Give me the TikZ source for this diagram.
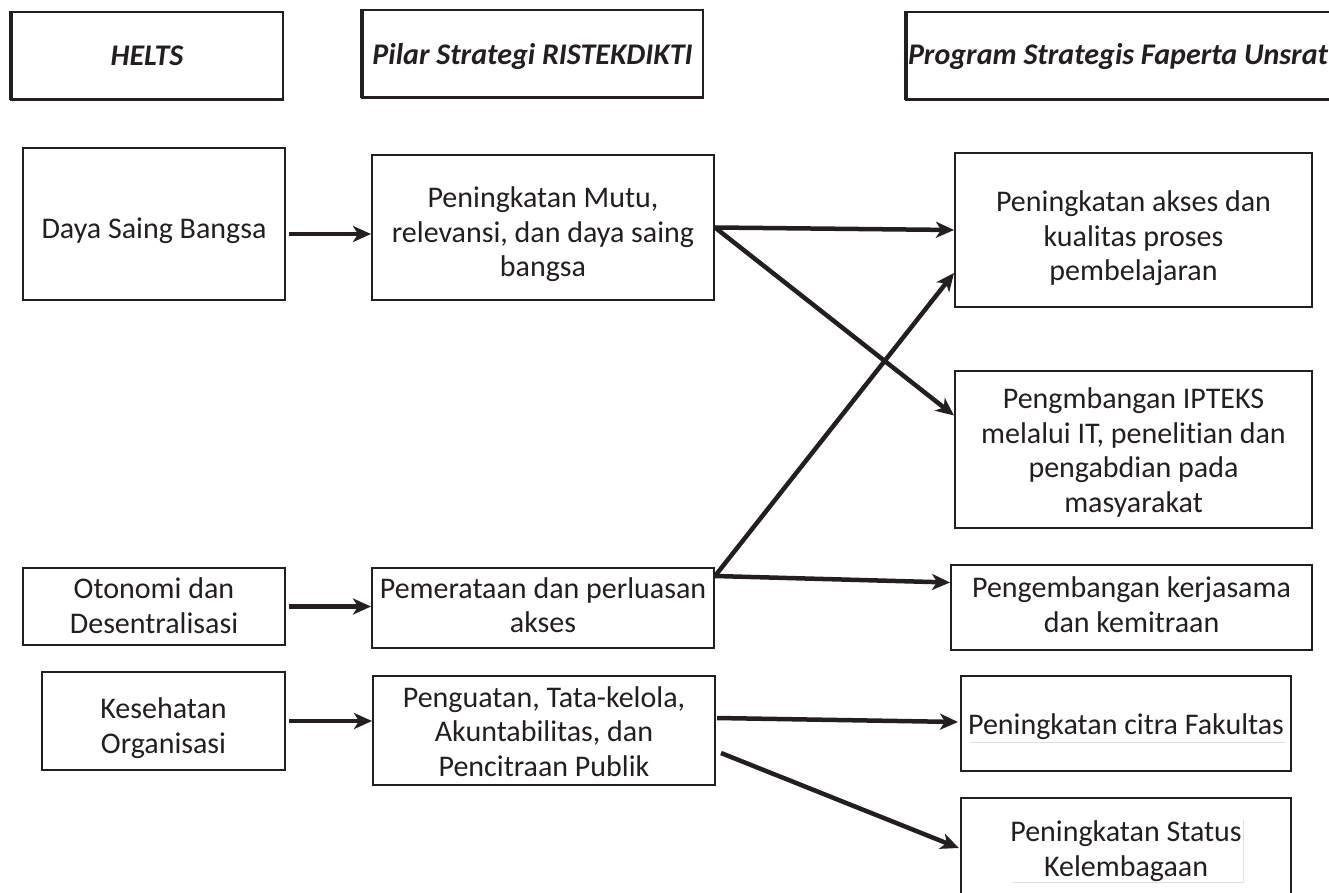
\documentclass[tikz,border=0pt]{standalone}
\usepackage{fontspec}
\setmainfont{Carlito}[Ligatures=CommonOff]
\usetikzlibrary{arrows.meta}
\definecolor{ink}{HTML}{231F20}
\begin{document}
\begin{tikzpicture}[x=1pt,y=-1pt,
  box/.style={draw=ink, line width=2pt, inner sep=0pt},
  nobox/.style={inner sep=0pt},
  txt/.style={align=center, inner sep=0pt, text=ink, yshift=-7pt,
    font=\fontsize{30}{34.5}\selectfont},
  htxt/.style={align=center, inner sep=0pt, text=ink,
    font=\fontsize{30}{34}\selectfont\bfseries\itshape},
  edge/.style={draw=ink, line width=2pt},
  thick edge/.style={draw=ink, line width=4pt},
  faint/.style={draw=black!12, line width=1pt},
  arr/.style={draw=ink, line width=4.5pt, -{Stealth[length=18pt,width=16pt,inset=5pt]}}]
\useasboundingbox (0,0) rectangle (1329,893);

% header boxes
\node[box, minimum width=272pt, minimum height=87pt,
  label={[htxt]center:HELTS}] (helts) at (147,55.5) {};
\node[box, minimum width=341pt, minimum height=87pt,
  label={[htxt,yshift=-3pt]center:Pilar Strategi RISTEKDIKTI}] (pilar) at (532.5,53.5) {};
\node[nobox, minimum width=426pt, minimum height=87pt,
  label={[htxt,yshift=-1.5pt]center:Program Strategis Faperta Unsrat}] (program) at (1118,55.5) {};
\draw[edge] (program.north east) -- (program.north west) -- (program.south west) -- (program.south east);
\foreach \n in {helts,pilar,program}{
  \draw[thick edge] ([xshift=1pt]\n.north west) -- ([xshift=1pt]\n.south west);
  \draw[draw=ink, line width=3pt] (\n.south west) -- (\n.south east);
}

% column 1
\node[box, minimum width=262pt, minimum height=152pt,
  label={[txt]center:Daya Saing Bangsa}] (daya) at (154,224) {};
\node[box, minimum width=262pt, minimum height=77pt,
  label={[txt,yshift=8pt]center:{Otonomi dan\\Desentralisasi}}] (otonomi) at (154,606.5) {};
\node[box, minimum width=243pt, minimum height=98pt,
  label={[txt]center:{Kesehatan\\Organisasi}}] (kesehatan) at (163.5,721) {};

% column 2
\node[box, minimum width=342pt, minimum height=145pt,
  label={[txt]center:{Peningkatan Mutu,\\relevansi, dan daya saing\\bangsa}}] (mutu) at (543,227.5) {};
\node[box, minimum width=342pt, minimum height=80pt,
  label={[txt,yshift=10pt]center:{Pemerataan dan perluasan\\akses}}] (pemerataan) at (543,608) {};
\node[box, minimum width=342pt, minimum height=109pt,
  label={[txt,yshift=6pt]center:{Penguatan, Tata-kelola,\\Akuntabilitas, dan\\Pencitraan Publik}}] (penguatan) at (544,730.5) {};

% column 3
\node[box, minimum width=357pt, minimum height=154pt,
  label={[txt,yshift=-1.5pt]center:{Peningkatan akses dan\\kualitas proses\\pembelajaran}}] (akses) at (1133.5,230) {};
\node[box, minimum width=357pt, minimum height=157pt,
  label={[txt,yshift=4pt]center:{Pengmbangan IPTEKS\\melalui IT, penelitian dan\\pengabdian pada\\masyarakat}}] (ipteks) at (1133.5,449.5) {};
\node[box, minimum width=361pt, minimum height=85pt,
  label={[txt,yshift=10pt]center:{Pengembangan kerjasama\\dan kemitraan}}] (kerjasama) at (1131.5,607.5) {};
\node[box, minimum width=330pt, minimum height=95pt,
  label={[txt,yshift=4pt]center:Peningkatan citra Fakultas}] (citra) at (1126,723.5) {};
\node[nobox, minimum width=330pt, minimum height=100pt,
  label={[txt,yshift=4pt]center:{Peningkatan Status\\Kelembagaan}}] (status) at (1126,848) {};
\draw[edge] (status.south west) -- (status.north west) -- (status.north east) -- (status.south east);

% faint text-frame traces
\draw[faint] ([xshift=-156pt,yshift=-18.5pt]citra.center) -- ([xshift=159pt,yshift=-18.5pt]citra.center);
\draw[faint] ([xshift=-114pt,yshift=-34pt]status.center) -- ([xshift=117pt,yshift=-34pt]status.center)
  -- ([xshift=117pt,yshift=28pt]status.center);

% connectors
\draw[arr] ([xshift=3pt,yshift=-10pt]daya.east) -- ([yshift=-6.5pt]mutu.west);
\draw[arr] ([xshift=3pt]otonomi.east) -- ([yshift=1.5pt]pemerataan.west);
\draw[arr] ([xshift=3pt]kesehatan.east) -- ([yshift=9.5pt]penguatan.west);

\draw[arr] (mutu.east) -- (akses.west);
\draw[arr] (mutu.east) -- ([yshift=34pt]ipteks.west);
\draw[arr] ([yshift=32pt]pemerataan.east) -- ([yshift=-43pt]akses.west);
\draw[arr] ([yshift=32pt]pemerataan.east) -- ([yshift=25pt]kerjasama.west);
\draw[arr] ([xshift=1pt,yshift=12.5pt]penguatan.east) -- ([xshift=-2pt,yshift=1.5pt]citra.west);
\draw[arr] ([xshift=5pt,yshift=-22.5pt]penguatan.east) -- ([xshift=-2pt]status.west);
\end{tikzpicture}
\end{document}
